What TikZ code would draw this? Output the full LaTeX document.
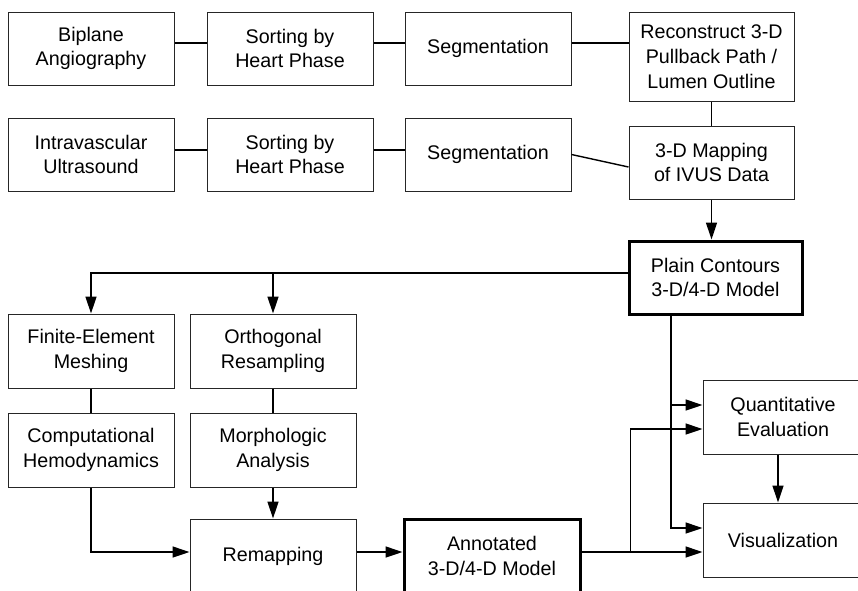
\documentclass[tikz,border=0pt]{standalone}
\usepackage{fontspec}
\setmainfont{Liberation Sans}
\usetikzlibrary{arrows.meta}
\begin{document}
\begin{tikzpicture}[x=1pt,y=-1pt,
  box/.style={draw=black!85,line width=1pt,rectangle,inner sep=0pt,minimum width=166pt,minimum height=73pt,align=center,font=\fontsize{19.7}{24.8}\selectfont},
  thickbox/.style={box,line width=3pt,draw=black},
  conn/.style={line width=1.4pt},
  arr/.style={conn,-{Triangle[length=17pt,width=11pt]}}]
\useasboundingbox (0,0) rectangle (858,590);
% row 1
\node[box] (bip) at (91,48.5) {Biplane\\Angiography};
\node[box] (sort1) at (290,48.5) {Sorting by\\Heart Phase};
\node[box] (seg1) at (488,48.5) {Segmentation};
\node[box,minimum width=165pt,minimum height=89pt] (rec) at (711.5,56.5) {Reconstruct 3-D\\Pullback Path /\\Lumen Outline};
% row 2
\node[box] (ivus) at (91,154.5) {Intravascular\\Ultrasound};
\node[box] (sort2) at (290,154.5) {Sorting by\\Heart Phase};
\node[box] (seg2) at (488,154.5) {Segmentation};
\node[box,minimum width=165pt] (map) at (711.5,162.5) {3-D Mapping\\of IVUS Data};
% plain model
\node[thickbox,minimum width=173pt] (plain) at (715.5,277.5) {Plain Contours\\3-D/4-D Model};
% lower left
\node[box,minimum height=74pt] (fem) at (91,351) {Finite-Element\\Meshing};
\node[box,minimum height=74pt] (orth) at (273,351) {Orthogonal\\Resampling};
\node[box,minimum height=74pt] (comp) at (91,450) {Computational\\Hemodynamics};
\node[box,minimum height=74pt] (morph) at (273,450) {Morphologic\\Analysis};
\node[box,minimum height=74pt] (remap) at (273,556) {Remapping};
\node[thickbox,minimum width=176pt,minimum height=74pt] (annot) at (492,556) {Annotated\\3-D/4-D Model};
% right
\node[box,minimum width=160pt,minimum height=74pt] (quant) at (783,417) {Quantitative\\Evaluation};
\node[box,minimum width=160pt,minimum height=74pt] (vis) at (783,540) {Visualization};
% connectors row 1
\draw[conn] ([yshift=5.5pt]bip.east) -- ([yshift=5.5pt]sort1.west);
\draw[conn] ([yshift=5.5pt]sort1.east) -- ([yshift=5.5pt]seg1.west);
\draw[conn] ([yshift=5.5pt]seg1.east) -- ([yshift=5.5pt]seg1.east -| rec.west);
% connectors row 2
\draw[conn] ([yshift=4.5pt]ivus.east) -- ([yshift=4.5pt]sort2.west);
\draw[conn] ([yshift=4.5pt]sort2.east) -- ([yshift=4.5pt]seg2.west);
\draw[conn] (seg2.east) -- ([yshift=-4.5pt]map.west);
\draw[conn] (rec.south) -- (map.north);
\draw[arr] (map.south) -- (map.south |- plain.north);
% plain to left
\coordinate (pl) at ([yshift=4.5pt]plain.west);
\draw[arr] (pl) -| (fem.north);
\draw[arr] (pl -| orth.north) -- (orth.north);
\draw[conn] (fem.south) -- (comp.north);
\draw[conn] (orth.south) -- (morph.north);
\draw[arr] (morph.south) -- (remap.north);
\draw[arr] (comp.south) |- ([yshift=4pt]remap.west);
\draw[arr] ([yshift=4pt]remap.east) -- ([yshift=4pt]annot.west);
% annotated to right
\coordinate (ae) at ([yshift=4pt]annot.east);
\draw[arr] (ae) -- (ae -| vis.west);
\coordinate (ab) at ([xshift=49pt]ae);
\draw[arr] (ab) |- ([yshift=-12pt]quant.west);
% plain down
\coordinate (pd) at ([xshift=-44.5pt]plain.south);
\coordinate (qin) at ([yshift=12pt]quant.west);
\draw[arr] (pd) |- ([yshift=12pt]vis.west);
\draw[arr] (pd |- qin) -- (qin);
\draw[arr] ([xshift=-5pt]quant.south) -- ([xshift=-5pt]quant.south |- vis.north);
\end{tikzpicture}
\end{document}
